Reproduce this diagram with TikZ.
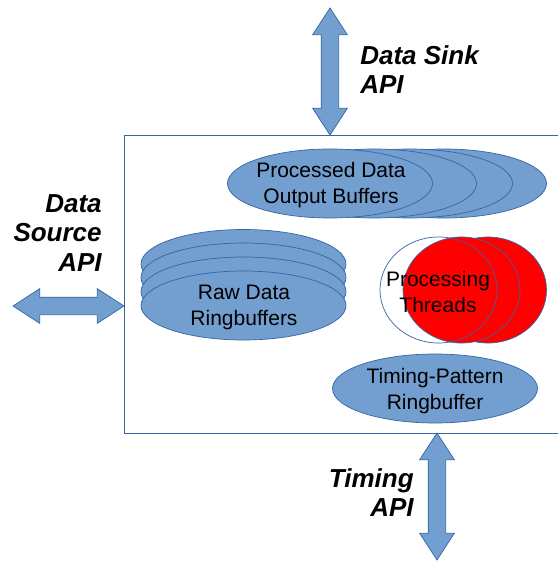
\documentclass[tikz,border=0pt]{standalone}
\usepackage{fontspec}
\setmainfont{Liberation Sans}
\usetikzlibrary{shapes.geometric,shapes.arrows}
\definecolor{buffill}{HTML}{729FCF}
\definecolor{bufline}{HTML}{3465A4}
\definecolor{threadred}{HTML}{FF0000}
\begin{document}
\begin{tikzpicture}[x = 1pt, y = -1pt, line width = 0.7pt,
                        buffer/.style = {ellipse, draw = bufline, fill = buffill, inner sep = 0pt,
                                         minimum width = 205pt, minimum height = 69pt},
                        thread/.style = {ellipse, draw = bufline, inner sep = 0pt,
                                         minimum width = 117pt, minimum height = 106pt},
                        caption/.style = {inner sep = 0pt, align = center,
                                          font = \fontsize{21}{25.5}\selectfont},
                        apiarrow/.style = {double arrow, draw = bufline, fill = buffill,
                                           inner xsep = 0pt, inner ysep = 8.5pt, minimum width = 0pt,
                                           double arrow head extend = 8.5pt, double arrow tip angle = 66},
                        apilabel/.style = {inner sep = 0pt, font = \fontsize{26}{29.5}\selectfont\bfseries\itshape}]
      \clip (0, 0) rectangle (558, 561);
      \fill [white] (0, 0) rectangle (558, 561);

      \draw [bufline] (124, 135) rectangle (570, 433);

      \node [buffer] (out4) at (444, 183.5){};
      \node [buffer] (out3) at (410, 183.5){};
      \node [buffer] (out2) at (374, 183.5){};
      \node [buffer] (out1) at (330, 183.5){};
      \node [caption] (outtext) at (331, 185){Processed Data\\Output Buffers};

      \node [buffer] (raw4) at (243.5, 264){};
      \node [buffer] (raw3) at (243.5, 277.5){};
      \node [buffer] (raw2) at (243.5, 291.5){};
      \node [buffer] (raw1) at (243.5, 305.5){};
      \node [caption] (rawtext) at (244, 307.5){Raw Data\\Ringbuffers};

      \node [thread, fill = threadred] (thr3) at (488, 290){};
      \node [thread, fill = threadred] (thr2) at (461.5, 290){};
      \node [thread] (thr1) at (438.5, 290){};
      \node [caption] (thrtext) at (438, 292){Processing\\Threads};

      \node [buffer] (timing) at (435, 388.5){};
      \node [caption] (timingtext) at (435, 391){Timing-Pattern\\Ringbuffer};

      \node [apiarrow, rotate = 90, minimum height = 127pt] (sink) at (330, 71.5){};
      \node [apiarrow, minimum height = 111pt] (source) at (68.5, 306){};
      \node [apiarrow, rotate = 90, minimum height = 127pt] (timer) at (437, 496.5){};

      \node [apilabel, anchor = north west, align = left] (sinklabel) at (360, 45){Data Sink\\API};
      \node [apilabel, anchor = north east, align = right] (sourcelabel) at (102, 194){Data\\Source\\API};
      \node [apilabel, anchor = north east, align = right] (timerlabel) at (414, 468){Timing\\API};
      \end{tikzpicture}
\end{document}
